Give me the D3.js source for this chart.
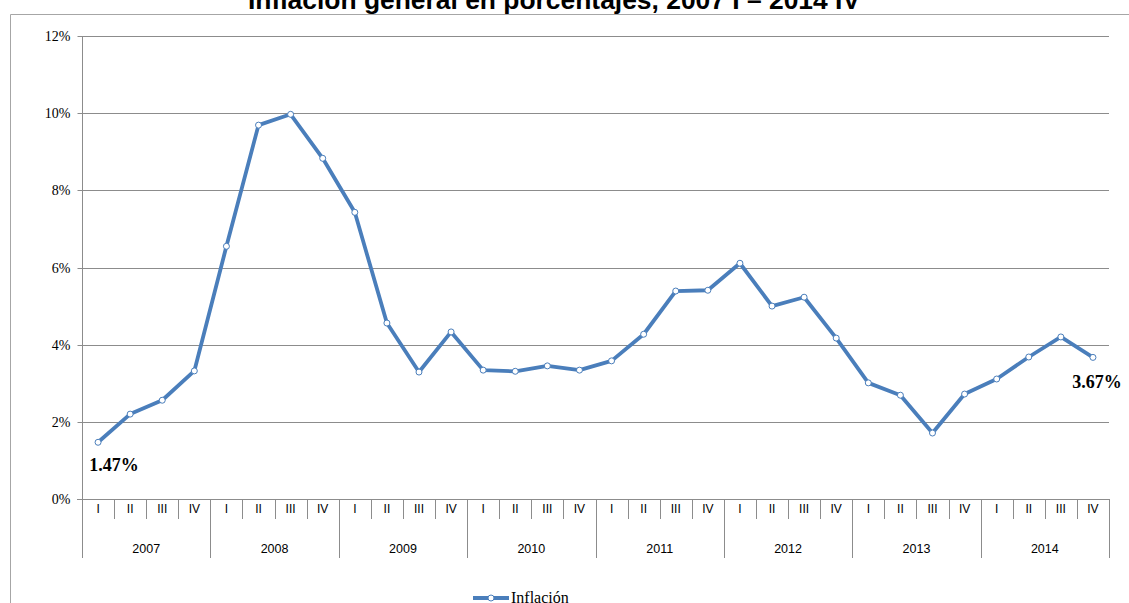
<!DOCTYPE html>
<html><head><meta charset="utf-8">
<script src="https://cdn.jsdelivr.net/npm/d3@7"></script>
<style>body{margin:0;background:#fff;} svg{display:block;}</style>
</head><body>
<svg id="chart" width="1129" height="603"></svg>
<script>
const years = ["2007","2008","2009","2010","2011","2012","2013","2014"];
const quarters = ["I","II","III","IV"];
const inflation = [1.47,2.20,2.56,3.32, 6.55,9.69,9.97,8.83, 7.43,4.56,3.29,4.33, 3.34,3.31,3.45,3.34,
                   3.58,4.27,5.39,5.41, 6.11,5.00,5.23,4.17, 3.01,2.69,1.71,2.72, 3.11,3.68,4.20,3.67];
const yTicks = [0,2,4,6,8,10,12];
const title = "Inflación general en porcentajes, 2007 I – 2014 IV";
const seriesName = "Inflación";

const cats = [];
years.forEach(y => quarters.forEach(q => cats.push(y + "-" + q)));
const data = cats.map((c,i) => ({c, y: c.split("-")[0], q: c.split("-")[1], v: inflation[i]}));

const svg = d3.select("#chart");
const L = 82, R = 1109, T = 36, B = 499;
const x = d3.scaleBand().domain(cats).range([L, R]);
const y = d3.scaleLinear().domain([0, 12]).range([B, T]);

// outer border
svg.append("path").attr("d", `M10.5,603 V14.5 H1129`).attr("fill","none").attr("stroke","#a6a6a6").attr("stroke-width",1);

// title
svg.append("text").attr("x", 554).attr("y", 9).attr("text-anchor","middle")
  .attr("font-family","Liberation Sans, Arial, sans-serif").attr("font-weight","bold").attr("font-size",25)
  .attr("textLength", 612).attr("lengthAdjust","spacingAndGlyphs")
  .text(title);

// gridlines
svg.append("g").selectAll("line").data(yTicks.filter(d=>d>0)).join("line")
  .attr("x1", L).attr("x2", R).attr("y1", d=>Math.round(y(d))+0.5).attr("y2", d=>Math.round(y(d))+0.5)
  .attr("stroke","#8c8c8c").attr("stroke-width",1);

// y axis
const yAxis = d3.axisLeft(y).tickValues(yTicks).tickSize(5).tickPadding(7).tickFormat(d => d + "%");
const gy = svg.append("g").attr("transform", `translate(${L+0.5},0)`).call(yAxis);
gy.select(".domain").attr("stroke","#8c8c8c").attr("d", `M0,${T}V${B}`);
gy.selectAll(".tick line").attr("stroke","#8c8c8c");
gy.selectAll(".tick text").attr("font-family","Liberation Serif, Times New Roman, serif").attr("font-size",14).attr("fill","#000");
gy.selectAll(".tick").attr("transform", d => `translate(0,${Math.round(y(d))+0.5})`);

// x axis base line
svg.append("line").attr("x1", L-5).attr("x2", R).attr("y1", B+0.5).attr("y2", B+0.5).attr("stroke","#8c8c8c");

// quarter dividers
const gx = svg.append("g");
const bw = x.bandwidth();
cats.forEach((c,i) => {
  const isYear = i % 4 === 0;
  const xx = Math.round(x(c)) + 0.5;
  gx.append("line").attr("x1", xx).attr("x2", xx).attr("y1", B).attr("y2", isYear ? 558 : 519).attr("stroke","#8c8c8c");
});
gx.append("line").attr("x1", R+0.5).attr("x2", R+0.5).attr("y1", B).attr("y2", 558).attr("stroke","#8c8c8c");
gx.selectAll("text.q").data(data).join("text").attr("class","q")
  .attr("x", d => x(d.c) + bw/2).attr("y", 513).attr("text-anchor","middle").attr("fill","#000")
  .attr("font-family","Liberation Sans, Arial, sans-serif").attr("font-size",12).text(d => d.q);
gx.selectAll("text.yr").data(years).join("text").attr("class","yr")
  .attr("x", d => (x(d+"-I") + x(d+"-IV") + bw)/2).attr("y", 553).attr("text-anchor","middle").attr("fill","#000")
  .attr("font-family","Liberation Sans, Arial, sans-serif").attr("font-size",12.5).text(d => d);

// line
const color = "#4a7ebb";
const line = d3.line().x(d => x(d.c) + bw/2).y(d => y(d.v));
svg.append("path").datum(data).attr("d", line).attr("fill","none").attr("stroke", color)
  .attr("stroke-width", 3.8).attr("stroke-linejoin","round").attr("stroke-linecap","round");
svg.append("g").selectAll("circle").data(data).join("circle")
  .attr("cx", d => x(d.c) + bw/2).attr("cy", d => y(d.v)).attr("r", 3)
  .attr("fill","#fff").attr("stroke", color).attr("stroke-width", 1);

// data labels
const first = data[0], last = data[data.length-1];
svg.append("text").attr("x", x(first.c) + bw/2 + 16).attr("y", y(first.v) + 29).attr("text-anchor","middle")
  .attr("font-family","Liberation Serif, Times New Roman, serif").attr("font-weight","bold").attr("font-size",18)
  .text(first.v.toFixed(2) + "%");
svg.append("text").attr("x", x(last.c) + bw/2 + 4).attr("y", y(last.v) + 31).attr("text-anchor","middle")
  .attr("font-family","Liberation Serif, Times New Roman, serif").attr("font-weight","bold").attr("font-size",18)
  .text(last.v.toFixed(2) + "%");

// legend
const lg = svg.append("g");
lg.append("line").attr("x1", 473).attr("x2", 509).attr("y1", 598).attr("y2", 598).attr("stroke", color).attr("stroke-width", 3.8);
lg.append("circle").attr("cx", 491).attr("cy", 598).attr("r", 3).attr("fill","#fff").attr("stroke", color);
lg.append("text").attr("x", 511).attr("y", 603).attr("font-family","Liberation Serif, Times New Roman, serif")
  .attr("font-size",16).text(seriesName);
</script>
</body></html>
